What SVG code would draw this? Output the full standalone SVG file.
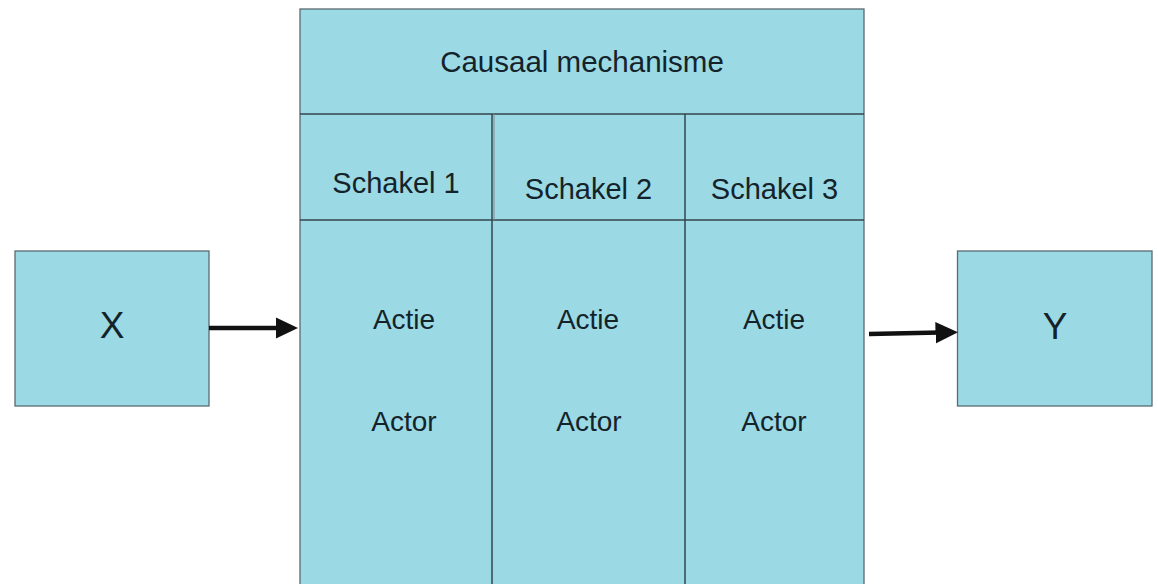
<svg xmlns="http://www.w3.org/2000/svg" width="1158" height="584" viewBox="0 0 1158 584">
<defs>
<style>
.box{fill:#9bd9e5;stroke:#5a6a70;stroke-width:1.3}
.div{stroke:#34454c;stroke-width:1.5;fill:none}
.t{font-family:"Liberation Sans",Arial,sans-serif;fill:#14232a;text-anchor:middle}
.conn{stroke:#111;stroke-width:4.5;fill:none}
</style>
<marker id="ah" markerWidth="6" markerHeight="6" refX="1" refY="3" orient="auto" markerUnits="strokeWidth"><path d="M0,0.6 L5,3 L0,5.4 Z" fill="#111"/></marker>
</defs>
<rect width="1158" height="584" fill="#fff"/>
<g id="x">
<rect class="box" x="15" y="251" width="194" height="155"/>
<text class="t" x="112" y="338" font-size="37">X</text>
</g>
<g id="y">
<rect class="box" x="957.5" y="251" width="194.5" height="155"/>
<text class="t" x="1055" y="339" font-size="37">Y</text>
</g>
<g id="mechanisme">
<rect class="box" x="300" y="9" width="564" height="580"/>
<line class="div" x1="300" y1="114" x2="864" y2="114"/>
<line class="div" x1="300" y1="220" x2="864" y2="220"/>
<line class="div" x1="492" y1="114" x2="492" y2="584"/>
<line x1="494" y1="114" x2="494" y2="220" stroke="#7d8a8f" stroke-width="1"/>
<line class="div" x1="685" y1="114" x2="685" y2="584"/>
<text class="t" x="582" y="72" font-size="29.5">Causaal mechanisme</text>
</g>
<g id="schakel1">
<text class="t" x="396" y="193" font-size="29">Schakel 1</text>
<text class="t" x="404" y="329" font-size="28">Actie</text>
<text class="t" x="404" y="431" font-size="28">Actor</text>
</g>
<g id="schakel2">
<text class="t" x="588.5" y="199" font-size="29">Schakel 2</text>
<text class="t" x="588" y="329" font-size="28">Actie</text>
<text class="t" x="589" y="431" font-size="28">Actor</text>
</g>
<g id="schakel3">
<text class="t" x="774.5" y="199" font-size="29">Schakel 3</text>
<text class="t" x="774" y="329" font-size="28">Actie</text>
<text class="t" x="774" y="431" font-size="28">Actor</text>
</g>
<g id="connectors">
<line class="conn" x1="209" y1="328" x2="280" y2="328" marker-end="url(#ah)"/>
<line class="conn" x1="869" y1="334" x2="940" y2="332.6" marker-end="url(#ah)"/>
</g>
</svg>
